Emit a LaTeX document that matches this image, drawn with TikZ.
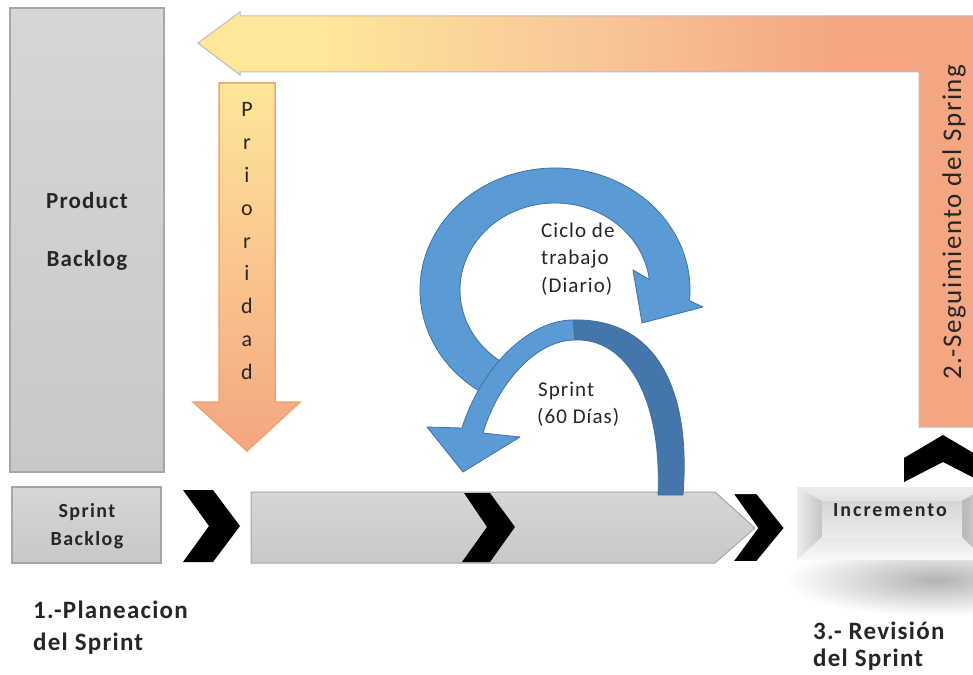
\documentclass[tikz,border=0pt]{standalone}
\usepackage{fontspec}
\setmainfont{Carlito}
\usetikzlibrary{calc}

% palette
\definecolor{boxtop}{HTML}{D6D6D6}
\definecolor{boxbot}{HTML}{C8C8C8}
\definecolor{boxedge}{HTML}{A6A6A6}
\definecolor{yl}{HTML}{FFE699}
\definecolor{ylmid}{HTML}{F8C699}
\definecolor{sm}{HTML}{F4A582}
\definecolor{bentedge}{HTML}{BDBDBD}
\definecolor{priedge}{HTML}{F2A36B}
\definecolor{arrowblue}{HTML}{5B9BD5}
\definecolor{arrowdark}{HTML}{4476AB}
\definecolor{arrowedge}{HTML}{41719C}
\definecolor{txt}{HTML}{262626}

% size in pt (= px here) and tracking
\newcommand\fsz[2]{\fontsize{#1}{#1}\selectfont\addfontfeatures{LetterSpace=#2}}

% left-to-right gradient of the bent feedback arrow
\pgfdeclarehorizontalshading{bentshade}{100bp}{color(0bp)=(yl); color(33bp)=(yl); color(50bp)=(ylmid); color(66bp)=(sm); color(100bp)=(sm)}

\tikzset{
  graybox/.style={draw=boxedge, line width=1.2pt, top color=boxtop, bottom color=boxbot},
  bentarrow/.style={draw=bentedge, line width=1pt, shading=bentshade},
  priarrow/.style={draw=priedge, line width=1.5pt, top color=yl, bottom color=sm},
  chevron/.style={fill=black},
  bluefill/.style={fill=arrowblue, draw=arrowedge, line width=0.8pt, line join=round},
  bluedark/.style={fill=arrowdark, draw=arrowedge, line width=0.8pt, line join=round},
  boldlbl/.style n args={2}{inner sep=0pt, text=txt, font=\bfseries\fsz{#1}{#2}},
  plainlbl/.style n args={2}{inner sep=0pt, text=txt, font=\fsz{#1}{#2}},
}

\begin{document}
\begin{tikzpicture}[x=1pt,y=-1pt]
\clip (0,0) rectangle (973,674);
\fill[white] (0,0) rectangle (973,674);

% ---- Product Backlog column
\path[graybox] (10,8) rectangle (164,472);
\node[boldlbl={23}{5}, anchor=base] (pbA) at (87,208) {Product};
\node[boldlbl={23}{5}, anchor=base] (pbB) at (87,266) {Backlog};

% ---- bent feedback arrow (top band + right leg)
\path[bentarrow] (198,43) -- (240,12) -- (240,16) -- (985,16) -- (985,427)
  -- (919,427) -- (919,72) -- (240,72) -- (240,75) -- cycle;
\node[plainlbl={27}{6}, rotate=90] (seg) at (954,222) {2.-Seguimiento del Spring};

% ---- priority arrow
\path[priarrow] (219,83) -- (275,83) -- (275,402) -- (300,402) -- (247,451)
  -- (193,402) -- (219,402) -- cycle;
\foreach \ch [count=\i] in {P,r,i,o,r,i,d,a,d}
  \node[plainlbl={22}{0}, anchor=base] (pr\i) at (247,{117+32.75*(\i-1)}) {\ch};

% ---- bottom process row
\path[graybox] (12,487) rectangle (161,563);
\node[boldlbl={20}{7}, anchor=base] (sbA) at (87,517) {Sprint};
\node[boldlbl={20}{7}, anchor=base] (sbB) at (87,545) {Backlog};

\path[chevron] (183,490) -- (213,490) -- (240,526) -- (213,562) -- (183,562) -- (209,526) -- cycle;

\path[graybox, line width=1pt] (251,492) -- (715,492) -- (755,528) -- (715,563) -- (251,563) -- cycle;
\path[chevron] (464,493) -- (490,493) -- (515,527) -- (490,562) -- (462,562) -- (487,527) -- cycle;
\path[chevron, draw=white, line width=2pt, line join=miter]
  (732,493) -- (757,493) -- (785,528) -- (757,562) -- (732,562) -- (757,528) -- cycle;

% ---- increment block with its soft shadow
\shade[inner color=black!30, outer color=white] (935,580) ellipse[x radius=150, y radius=36];
\shade[top color=white!93!black, bottom color=white!88!black] (797,487) -- (985,487) -- (962,501) -- (822,501) -- cycle;
\shade[left color=white!93!black, right color=white!77!black] (797,487) -- (822,501) -- (822,537) -- (797,560) -- cycle;
\shade[top color=white!90!black, bottom color=white!98!black] (797,560) -- (822,537) -- (962,537) -- (985,560) -- cycle;
\shade[left color=white!72!black, right color=white!84!black] (985,487) -- (962,501) -- (962,537) -- (985,560) -- cycle;
\shade[top color=white!84!black, bottom color=white!92!black] (822,501) rectangle (962,537);
\node[boldlbl={20}{10}, anchor=base] (inc) at (890,516) {Incremento};

\path[chevron] (904,458) -- (943,435) -- (982,458) -- (982,482) -- (943,462) -- (904,482) -- cycle;

% ---- daily work cycle (elliptic band with head)
\coordinate (cc) at (555,290);
\path[bluefill] ($(cc)+(118:135 and 122)$)
  arc[start angle=118, end angle=365, x radius=135, y radius=122]
  -- (703,307) -- (642,323) -- (633,270)
  -- ($(cc)+(353:95 and 87)$)
  arc[start angle=353, end angle=118, x radius=95, y radius=87] -- cycle;

% ---- sprint arc: back half darker, front half with head
\path[bluedark] (683,495) .. controls (692,380) and (650,318) .. (573,320)
  -- (575,340) .. controls (625,338) and (662,395) .. (658,495) -- cycle;
\path[bluefill] (573,320) .. controls (527,320) and (480,370) .. (462,428)
  -- (427,427) -- (463,472) -- (520,437) -- (483,433)
  .. controls (497,385) and (535,340) .. (575,340) -- cycle;

% ---- labels inside the loops
\node[plainlbl={21}{5}, anchor=base west] (cy1) at (541,237) {Ciclo de};
\node[plainlbl={21}{5}, anchor=base west] (cy2) at (541,264) {trabajo};
\node[plainlbl={21}{5}, anchor=base west] (cy3) at (541,292) {(Diario)};
\node[plainlbl={21}{5}, anchor=base west] (sp1) at (538,396) {Sprint};
\node[plainlbl={21}{5}, anchor=base west] (sp2) at (537,423) {(60 Días)};

% ---- phase captions
\node[boldlbl={25}{5}, anchor=base west] (ph1a) at (33,618) {1.-Planeacion};
\node[boldlbl={25}{5}, anchor=base west] (ph1b) at (33,650) {del Sprint};
\node[boldlbl={25}{5}, anchor=base west] (ph3a) at (813,639) {3.- Revisión};
\node[boldlbl={25}{5}, anchor=base west] (ph3b) at (813,666) {del Sprint};
\end{tikzpicture}
\end{document}
